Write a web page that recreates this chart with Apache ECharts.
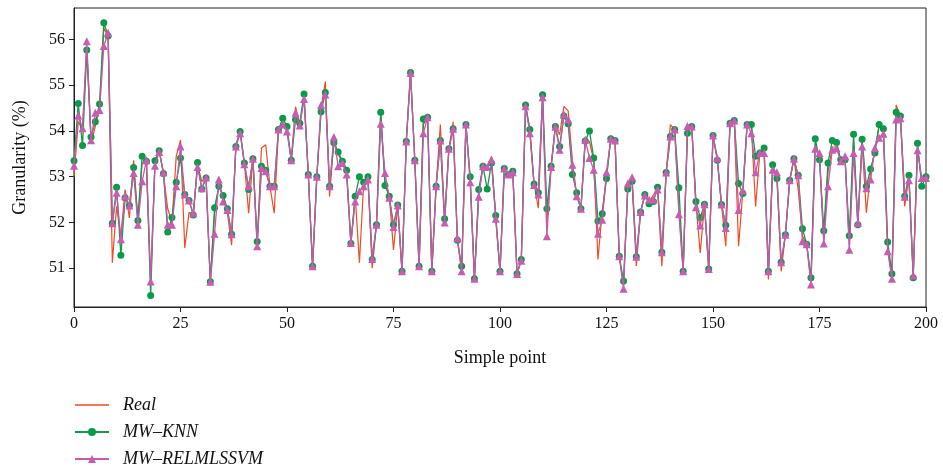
<!DOCTYPE html>
<html>
<head>
<meta charset="utf-8">
<script src="https://cdn.jsdelivr.net/npm/echarts@6/dist/echarts.min.js"></script>
<style>html,body{margin:0;padding:0;background:#fff}#c{width:943px;height:471px}</style>
</head>
<body>
<div id="c"></div>
<script>
const seriesNames = ['Real', 'MW\u2013KNN', 'MW\u2013RELMLSSVM'];
const yTickValues = [51, 52, 53, 54, 55, 56];
const realValues = [
53.0,54.2,54.05,55.8,53.74,54.1,54.5,56.25,56.07,51.12,52.35,51.7,52.72,52.1,53.36,52.05,53.3,53.3,50.7,53.3,
53.6,53.05,52.3,52.0,53.45,53.8,51.44,52.22,52.16,53.25,52.9,52.97,50.7,52.2,52.8,52.6,52.22,51.5,53.7,53.99,
53.3,52.2,53.4,51.5,53.63,53.7,52.79,52.2,54.03,54.2,54.0,53.36,54.53,54.12,54.75,53.05,51.04,53.0,54.5,55.08,
52.57,53.8,53.5,53.3,53.1,51.54,52.6,51.12,52.85,52.95,51.0,51.95,54.4,52.9,52.6,51.4,52.38,50.93,53.77,55.28,
53.36,51.04,54.14,54.3,50.93,52.79,54.14,52.0,53.61,54.2,51.61,50.93,54.14,52.95,50.77,52.6,53.23,53.15,53.45,52.1,
50.93,53.05,53.05,53.12,50.88,51.19,54.57,54.03,52.84,52.31,54.74,52.0,53.23,54.1,53.92,54.54,54.44,53.35,52.6,52.3,
53.81,53.77,53.35,51.19,52.25,53.0,53.83,53.79,51.26,50.6,52.8,52.95,51.05,52.23,52.6,52.45,52.6,52.75,51.04,53.09,
54.14,54.03,52.3,50.93,54.05,54.1,52.4,51.33,52.4,50.98,53.9,53.4,52.39,51.48,54.17,54.23,51.48,52.68,54.14,54.1,
52.35,53.52,53.6,50.75,53.2,53.05,50.93,51.73,52.92,53.39,52.72,51.7,51.52,50.7,53.7,53.45,51.6,53.1,53.65,53.65,
53.35,53.4,51.5,53.75,51.97,53.75,52.21,53.1,53.6,54.1,54.0,51.45,50.8,54.57,54.3,52.35,53.0,50.8,53.65,52.9,
53.0];
const knnValues = [
53.35,54.6,53.68,55.77,53.87,54.2,54.59,56.37,56.08,51.98,52.77,51.28,52.54,52.37,53.2,52.04,53.45,53.34,50.4,53.35,
53.57,53.07,51.79,52.11,52.88,53.41,52.61,52.48,52.16,53.31,52.73,52.97,50.7,52.32,52.79,52.59,52.3,51.74,53.66,53.99,
53.3,52.72,53.39,51.58,53.23,53.14,52.79,52.79,54.03,54.28,54.1,53.36,54.25,54.17,54.81,53.05,51.04,53.0,54.42,54.84,
52.79,53.74,53.54,53.34,53.14,51.54,52.57,53.0,52.88,53.0,51.19,51.95,54.41,52.81,52.57,51.95,52.38,50.93,53.77,55.28,
53.36,51.04,54.26,54.3,50.93,52.79,53.79,52.08,53.61,54.05,51.61,51.04,54.14,53.0,50.77,52.72,53.23,52.73,53.3,52.15,
50.93,53.18,53.05,53.12,50.88,51.19,54.57,54.03,52.84,52.65,54.79,52.3,53.23,54.1,53.66,54.33,54.16,53.05,52.65,52.3,
53.78,54.0,53.41,52.03,52.19,52.96,53.83,53.79,51.26,50.72,52.73,52.9,51.25,52.23,52.61,52.41,52.46,52.77,51.35,53.09,
53.88,54.03,52.76,50.93,53.95,54.1,52.46,52.1,52.4,50.98,53.9,53.36,52.39,51.94,54.17,54.23,52.85,52.63,54.14,54.14,
53.45,53.52,53.63,50.93,53.26,52.96,51.13,51.73,52.92,53.39,53.03,51.86,51.52,50.79,53.83,53.37,51.82,53.3,53.79,53.75,
53.37,53.37,51.71,53.93,51.95,53.82,52.79,53.17,53.52,54.14,54.05,51.57,50.88,54.41,54.33,52.57,53.03,50.79,53.73,52.79,
53.0];
const relmValues = [
53.24,54.34,54.06,55.96,53.8,54.4,54.46,55.86,56.15,51.98,52.65,51.63,52.57,52.37,53.08,51.95,52.9,53.36,50.71,53.24,
53.54,53.1,51.95,51.95,52.79,53.66,52.61,52.48,52.2,53.21,52.75,52.98,50.7,51.75,52.94,52.46,52.27,51.74,53.66,53.95,
53.27,52.79,53.39,51.48,53.19,53.12,52.79,52.79,54.03,54.14,53.99,53.36,54.4,54.12,54.7,53.05,51.04,53.0,54.57,54.8,
52.79,53.87,53.23,53.3,53.05,51.55,52.46,52.68,52.79,52.94,51.2,51.95,54.16,53.08,52.54,51.9,52.37,50.93,53.77,55.27,
53.36,51.04,53.95,54.3,50.93,52.79,53.79,52.0,53.61,54.05,51.66,50.93,54.14,52.88,50.77,52.56,53.23,53.21,53.37,52.08,
50.93,53.18,53.05,53.1,50.87,51.16,54.54,53.95,52.82,52.61,54.74,51.7,53.21,54.09,53.59,54.36,54.25,53.26,52.57,52.3,
53.81,53.41,53.15,51.75,52.06,53.1,53.83,53.79,51.26,50.55,52.85,52.99,51.25,52.23,52.59,52.5,52.5,52.72,51.35,53.09,
53.88,54.03,52.18,50.93,54.11,54.1,52.33,51.93,52.4,50.98,53.9,53.41,52.39,51.88,54.17,54.23,52.27,52.7,54.14,53.95,
53.1,53.52,53.52,50.93,53.15,53.1,51.13,51.73,52.92,53.39,53.03,51.59,51.52,50.64,53.61,53.52,51.54,52.79,53.59,53.62,
53.34,53.45,51.4,53.52,51.99,53.66,52.75,52.94,53.63,53.85,53.94,51.37,50.77,54.25,54.28,52.56,52.92,50.84,53.58,52.97,
52.97];

const toPairs = arr => arr.map((v, i) => [i, v]);
const FONT = '"Liberation Serif", "Times New Roman", serif';

const chart = echarts.init(document.getElementById('c'), null, {renderer: 'canvas'});
chart.setOption({
  animation: false,
  backgroundColor: '#fff',
  grid: {left: 74, right: 17, top: 8, bottom: 164, show: true, borderColor: '#222', borderWidth: 1, backgroundColor: 'transparent'},
  legend: {
    orient: 'vertical', left: 74, top: 396, bottom: 0, padding: 0,
    itemWidth: 34, itemHeight: 10, itemGap: 9,
    data: [
      {name: seriesNames[0], icon: 'path://M0,0 L34,0 L34,1.6 L0,1.6 Z'},
      {name: seriesNames[1]},
      {name: seriesNames[2]}
    ],
    textStyle: {fontFamily: FONT, fontStyle: 'italic', fontSize: 18, lineHeight: 18, color: '#111', padding: [0, 0, 0, 9]}
  },
  xAxis: {
    type: 'value', min: 0, max: 200, interval: 25,
    name: 'Simple point', nameLocation: 'middle', nameGap: 42,
    nameTextStyle: {fontFamily: FONT, fontSize: 18, color: '#111'},
    axisLine: {show: true, onZero: false, lineStyle: {color: '#222', width: 1}},
    axisTick: {show: true, inside: false, length: 5, lineStyle: {color: '#222'}},
    axisLabel: {fontFamily: FONT, fontSize: 16, color: '#111', margin: 9},
    splitLine: {show: false}
  },
  yAxis: {
    type: 'value', min: 50.15, max: 56.69,
    name: 'Granularity (%)', nameLocation: 'middle', nameGap: 45, nameRotate: 90,
    nameTextStyle: {fontFamily: FONT, fontSize: 18, color: '#111'},
    axisLine: {show: true, onZero: false, lineStyle: {color: '#222', width: 1}},
    axisTick: {show: true, inside: false, length: 5, lineStyle: {color: '#222'}, customValues: yTickValues},
    axisLabel: {fontFamily: FONT, fontSize: 16, color: '#111', margin: 9, customValues: yTickValues},
    splitLine: {show: false}
  },
  series: [
    {
      name: seriesNames[0], type: 'line', data: toPairs(realValues),
      showSymbol: false, symbol: 'none',
      lineStyle: {color: '#ef4b25', width: 1.2}, itemStyle: {color: '#ef4b25'}, z: 2
    },
    {
      name: seriesNames[1], type: 'line', data: toPairs(knnValues),
      symbol: 'circle', symbolSize: 7, showAllSymbol: true,
      lineStyle: {color: '#109a4c', width: 1.3}, itemStyle: {color: '#0a9a4a', borderWidth: 0}, z: 3
    },
    {
      name: seriesNames[2], type: 'line', data: toPairs(relmValues),
      symbol: 'triangle', symbolSize: 8, showAllSymbol: true,
      lineStyle: {color: '#c45aad', width: 1.3}, itemStyle: {color: '#c75cb0', borderWidth: 0}, z: 4
    }
  ]
});
</script>
</body>
</html>
